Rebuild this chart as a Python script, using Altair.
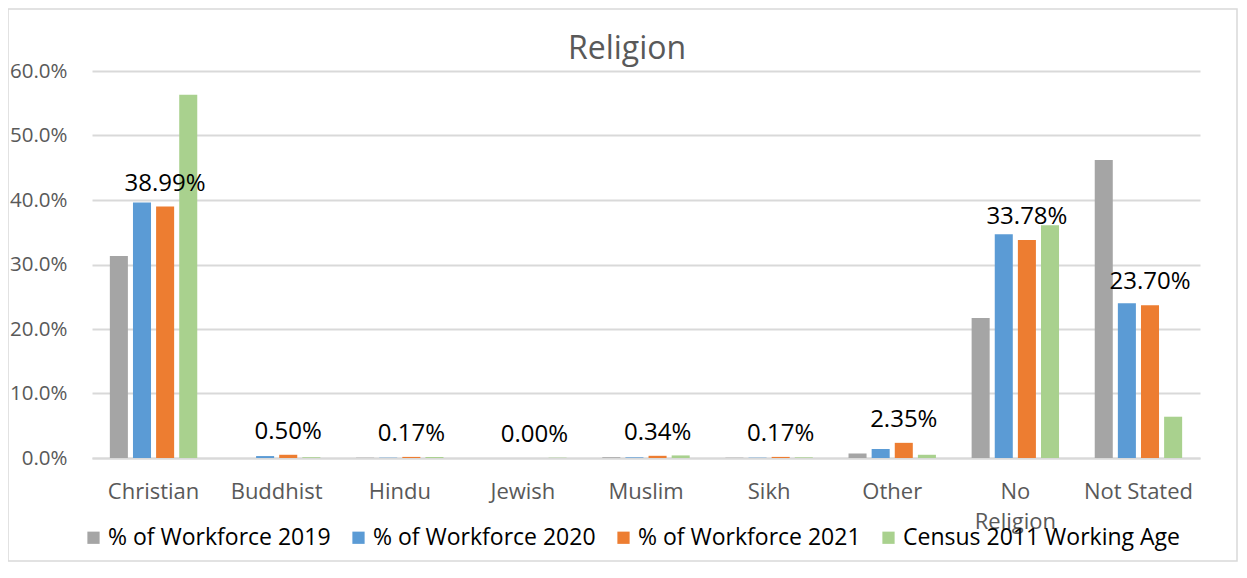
import altair as alt
import pandas as pd

categories = ["Christian", "Buddhist", "Hindu", "Jewish", "Muslim", "Sikh", "Other", "No Religion", "Not Stated"]
series = ["% of Workforce 2019", "% of Workforce 2020", "% of Workforce 2021", "Census 2011 Working Age"]
wf2019 = [0.313, 0.000, 0.0005, 0.000, 0.0010, 0.0005, 0.0070, 0.217, 0.462]
wf2020 = [0.396, 0.0030, 0.0005, 0.000, 0.0010, 0.0005, 0.0140, 0.347, 0.240]
wf2021 = [0.3899, 0.0050, 0.0017, 0.0000, 0.0034, 0.0017, 0.0235, 0.3378, 0.2370]
census = [0.563, 0.0012, 0.0015, 0.0005, 0.0040, 0.0010, 0.0050, 0.361, 0.064]
colors = ["#a5a5a5", "#5b9bd5", "#ed7d31", "#a9d18e"]

rows = []
for s, vals in zip(series, [wf2019, wf2020, wf2021, census]):
    for c, v in zip(categories, vals):
        rows.append({"Religion": c, "Series": s, "Value": v})
df = pd.DataFrame(rows)

FONT = "Open Sans"
W, H = 1108, 387

base = alt.Chart(df)

x = alt.X("Religion:N", sort=categories, title=None,
          scale=alt.Scale(paddingInner=0.29, paddingOuter=0.145),
          axis=alt.Axis(labelAngle=0, labelFontSize=22, labelColor="#595959", labelFont=FONT,
                        labelPadding=23, ticks=False, domainColor="#d9d9d9", domainWidth=2,
                        labelExpr="datum.label == 'No Religion' ? ['No', 'Religion'] : datum.label",
                        labelLineHeight=30))
xo = alt.XOffset("Series:N", sort=series, scale=alt.Scale(paddingInner=0.22, paddingOuter=0))

bars = base.mark_bar().encode(
    x=x,
    xOffset=xo,
    y=alt.Y("Value:Q", title=None,
            scale=alt.Scale(domain=[0, 0.6], nice=False),
            axis=alt.Axis(format=".1%", values=[0, 0.1, 0.2, 0.3, 0.4, 0.5, 0.6],
                          labelFontSize=20.5, labelColor="#595959", labelFont=FONT,
                          labelPadding=25, ticks=False, domain=False,
                          gridColor="#d9d9d9", gridWidth=2)),
    color=alt.Color("Series:N", sort=series, title=None,
                    scale=alt.Scale(domain=series, range=colors),
                    legend=alt.Legend(orient="none", legendX=-10, legendY=455, direction="horizontal",
                                      columns=4, symbolType="square", symbolSize=150,
                                      symbolStrokeWidth=0, labelFontSize=23, labelFont=FONT,
                                      labelColor="#000000", columnPadding=16, labelOffset=3,
                                      labelLimit=400)),
)

labels = base.transform_filter(alt.datum.Series == "% of Workforce 2021").mark_text(
    baseline="bottom", dy=-11, fontSize=24, font=FONT, color="#000000"
).encode(
    x=x,
    xOffset=xo,
    y=alt.Y("Value:Q"),
    text=alt.Text("Value:Q", format=".2%"),
)

frame = alt.Chart(pd.DataFrame({"a": [0]})).mark_rect(
    fill=None, stroke="#d9d9d9", strokeWidth=1.5
).encode(x=alt.value(-84), x2=alt.value(1145), y=alt.value(-62), y2=alt.value(490))

chart = alt.layer(frame, bars, labels).properties(
    width=W, height=H,
    title=alt.Title("Religion", fontSize=32, font=FONT, color="#595959", fontWeight="normal",
                    anchor="middle", dx=-19, dy=68, offset=10),
    autosize=alt.AutoSizeParams(type="none"),
    padding={"left": 84, "top": 63, "right": 39, "bottom": 104},
).configure_view(stroke=None)

chart.save("out.html", embed_options={"renderer": "svg", "actions": False})
